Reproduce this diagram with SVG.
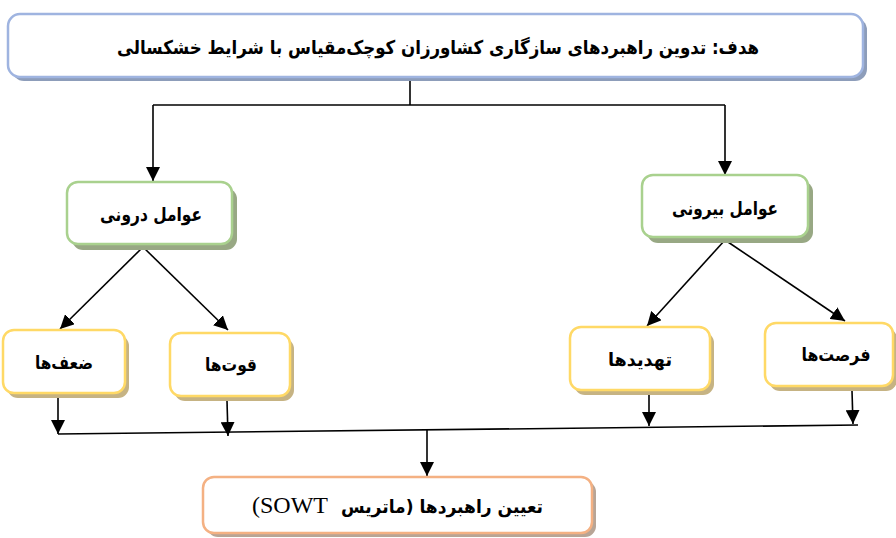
<svg xmlns="http://www.w3.org/2000/svg" width="896" height="538" viewBox="0 0 896 538">
<style>
  .fa { font-family: "DejaVu Sans", sans-serif; font-weight: bold; fill: #000; }
  .lat { font-family: "Liberation Serif", serif; fill: #000; }
  .box { fill: #fff; stroke-width: 2.5; }
  .blue { stroke: #9fb4e0; }
  .green { stroke: #a9d18e; }
  .yellow { stroke: #ffd966; }
  .orange { stroke: #f4b183; }
  .sh-blue { fill: #8d9dba; }
  .sh-green { fill: #98a884; }
  .sh-yellow { fill: #c6b383; }
  .sh-orange { fill: #b8a596; }
  .ln { stroke: #000; stroke-width: 1.6; fill: none; }
  .arr { stroke: #000; stroke-width: 1.6; fill: none; marker-end: url(#ah); }
</style>
<defs>
  <marker id="ah" markerUnits="userSpaceOnUse" markerWidth="15" markerHeight="14" refX="14" refY="7" orient="auto">
    <path d="M0,0 L14,7 L0,14 z" fill="#000"/>
  </marker>
</defs>
<rect width="896" height="538" fill="#fff"/>

<g id="connectors">
  <path class="ln" d="M410,80 V105"/>
  <path class="ln" d="M153,105 H725" stroke-width="2"/>
  <path class="arr" d="M153,105 V181"/>
  <path class="arr" d="M725,105 V175"/>
  <path class="arr" d="M143,247 L60,329"/>
  <path class="arr" d="M143,247 L228,330"/>
  <path class="arr" d="M725,240 L647,326"/>
  <path class="arr" d="M725,240 L845,321"/>
  <path class="arr" d="M58,398 V434"/>
  <path class="arr" d="M227,401 L228,436"/>
  <path class="arr" d="M649,394 V426"/>
  <path class="arr" d="M852,391 L853,424"/>
  <path class="ln" d="M58,434 L858,425" stroke-width="2"/>
  <path class="arr" d="M427,430 V476"/>
</g>

<g id="goal">
  <rect class="sh-blue" x="12" y="18" width="855" height="63" rx="12"/>
  <rect class="box blue" x="8" y="14" width="855" height="63" rx="12"/>
  <text class="fa" x="438" y="54" font-size="19" text-anchor="middle" direction="rtl" textLength="642" lengthAdjust="spacingAndGlyphs">هدف: تدوین راهبردهای سازگاری کشاورزان کوچک‌مقیاس با شرایط خشکسالی</text>
</g>

<g id="internal">
  <rect class="sh-green" x="72" y="188" width="165" height="62" rx="11"/>
  <rect class="box green" x="67" y="182" width="165" height="62" rx="11"/>
  <text class="fa" x="151" y="221" font-size="19" text-anchor="middle" direction="rtl" textLength="102" lengthAdjust="spacingAndGlyphs">عوامل درونی</text>
</g>

<g id="external">
  <rect class="sh-green" x="647" y="181" width="166" height="62" rx="11"/>
  <rect class="box green" x="642" y="175" width="166" height="62" rx="11"/>
  <text class="fa" x="725" y="215" font-size="19" text-anchor="middle" direction="rtl" textLength="106" lengthAdjust="spacingAndGlyphs">عوامل بیرونی</text>
</g>

<g id="weaknesses">
  <rect class="sh-yellow" x="7" y="335" width="122" height="63" rx="11"/>
  <rect class="box yellow" x="3" y="330" width="122" height="63" rx="11"/>
  <text class="fa" x="64" y="369" font-size="18" text-anchor="middle" direction="rtl" textLength="58" lengthAdjust="spacingAndGlyphs">ضعف‌ها</text>
</g>

<g id="strengths">
  <rect class="sh-yellow" x="174" y="338" width="120" height="63" rx="11"/>
  <rect class="box yellow" x="170" y="333" width="120" height="63" rx="11"/>
  <text class="fa" x="231" y="371" font-size="18" text-anchor="middle" direction="rtl" textLength="52" lengthAdjust="spacingAndGlyphs">قوت‌ها</text>
</g>

<g id="threats">
  <rect class="sh-yellow" x="574" y="332" width="140" height="63" rx="11"/>
  <rect class="box yellow" x="570" y="327" width="140" height="63" rx="11"/>
  <text class="fa" x="640" y="366" font-size="18" text-anchor="middle" direction="rtl" textLength="64" lengthAdjust="spacingAndGlyphs">تهدیدها</text>
</g>

<g id="opportunities">
  <rect class="sh-yellow" x="769" y="328" width="128" height="63" rx="11"/>
  <rect class="box yellow" x="765" y="323" width="128" height="63" rx="11"/>
  <text class="fa" x="836" y="361" font-size="18" text-anchor="middle" direction="rtl" textLength="69" lengthAdjust="spacingAndGlyphs">فرصت‌ها</text>
</g>

<g id="strategies">
  <rect class="sh-orange" x="207" y="481" width="389" height="56" rx="11"/>
  <rect class="box orange" x="203" y="477" width="389" height="56" rx="11"/>
  <text class="lat" x="252" y="513" font-size="24">(SOWT</text>
  <text class="fa" x="543" y="513" font-size="18" text-anchor="start" direction="rtl" textLength="202" lengthAdjust="spacingAndGlyphs">تعیین راهبردها (ماتریس</text>
</g>
</svg>
